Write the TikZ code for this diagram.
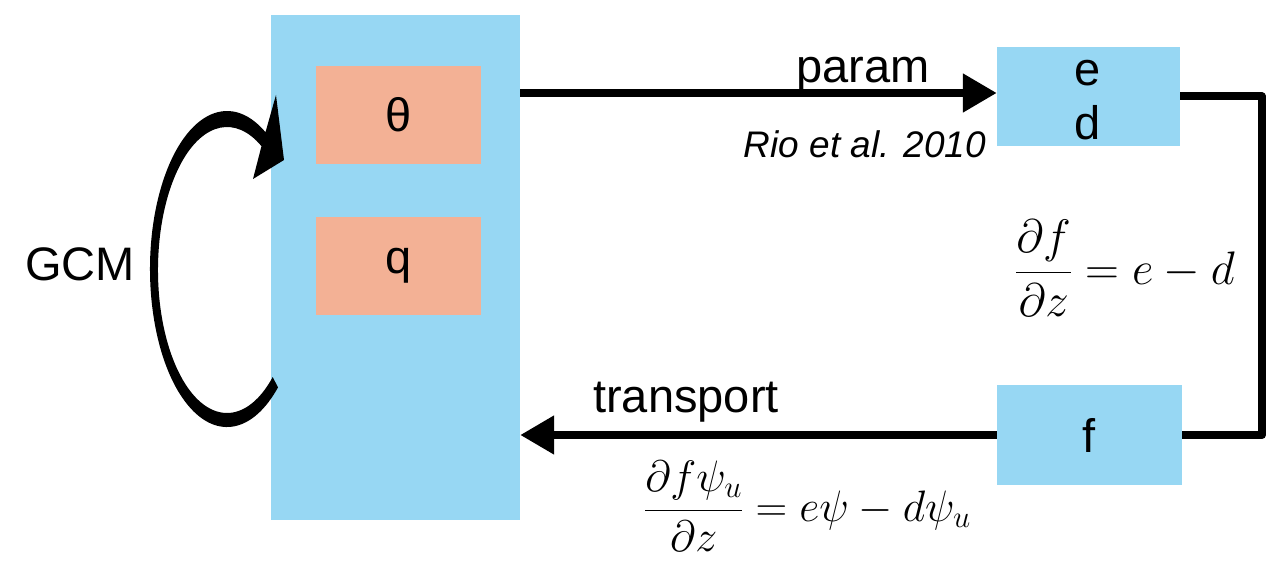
\documentclass[tikz,border=0pt]{standalone}
\usepackage{fix-cm}
\usepackage[no-math]{fontspec}
\setmainfont{Liberation Sans}
\usetikzlibrary{arrows.meta,calc}
\definecolor{boxblue}{RGB}{151,215,243}
\definecolor{salmon}{RGB}{243,177,149}
\begin{document}
\begin{tikzpicture}[x=1pt,y=1pt,
  txt/.style={font=\fontsize{47}{54}\selectfont, inner sep=0pt},
  bluebox/.style={fill=boxblue, draw=none, inner sep=0pt},
  salbox/.style={fill=salmon, draw=none, inner sep=0pt, minimum width=165pt, minimum height=98pt},
  conn/.style={line width=8pt, line join=round},
  arr/.style={conn, -{Triangle[length=34pt,width=37pt]}},
  eqn/.style={inner sep=0pt, font=\fontsize{47}{54}\selectfont}]
\useasboundingbox (0,0) rectangle (1270,560);
% boxes
\node[bluebox, minimum width=249pt, minimum height=505pt] (big) at (395.5,292.5) {};
\node[salbox, txt] (th) at (398.5,445) {θ};
\node[salbox, txt] (q) at (398.5,294) {q};
\node[bluebox, minimum width=183pt, minimum height=99pt] (ed) at (1088.5,463.5) {};
\node[txt, anchor=base] (e) at (1088,474) {e};
\node[txt, anchor=base] (d) at (1088,420) {d};
\node[bluebox, txt, minimum width=185pt, minimum height=100pt] (f) at (1089.5,125) {f};
% connectors
\coordinate (rc) at (1262,0);
\draw[arr] ([yshift=3.5pt]big.east |- ed.west) -- ([yshift=3.5pt]ed.west);
\draw[conn] (ed.east) -| (rc |- f.east) -- (f.east);
\draw[arr] (f.west) -- (big.east |- f.west);
% labels
\node[txt, anchor=base] (param) at (863,477) {param};
\node[inner sep=0pt, font=\fontsize{37}{44}\selectfont\itshape, anchor=base] (rio) at (865,402) {Rio et al. 2010};
\node[txt, anchor=base] (tr) at (686,147) {transport};
\node[txt, anchor=base] (gcm) at (80,279) {GCM};
\node[eqn] (eq1) at (1125,292) {$\displaystyle\frac{\partial f}{\partial z} = e - d$};
\node[eqn, font=\fontsize{44}{50}\selectfont] (eq2) at (807.5,54) {$\displaystyle\frac{\partial f\psi_u}{\partial z} = e\psi - d\psi_u$};
% GCM loop arrow
\fill (265.5,427.8) arc[start angle=60, end angle=311.5, x radius=77pt, y radius=158pt]
  -- (272.7,182.9) arc[start angle=311.5, end angle=60, x radius=69pt, y radius=143pt]
  -- (253,381) -- (284,400) -- (276,465) -- cycle;
\end{tikzpicture}
\end{document}
